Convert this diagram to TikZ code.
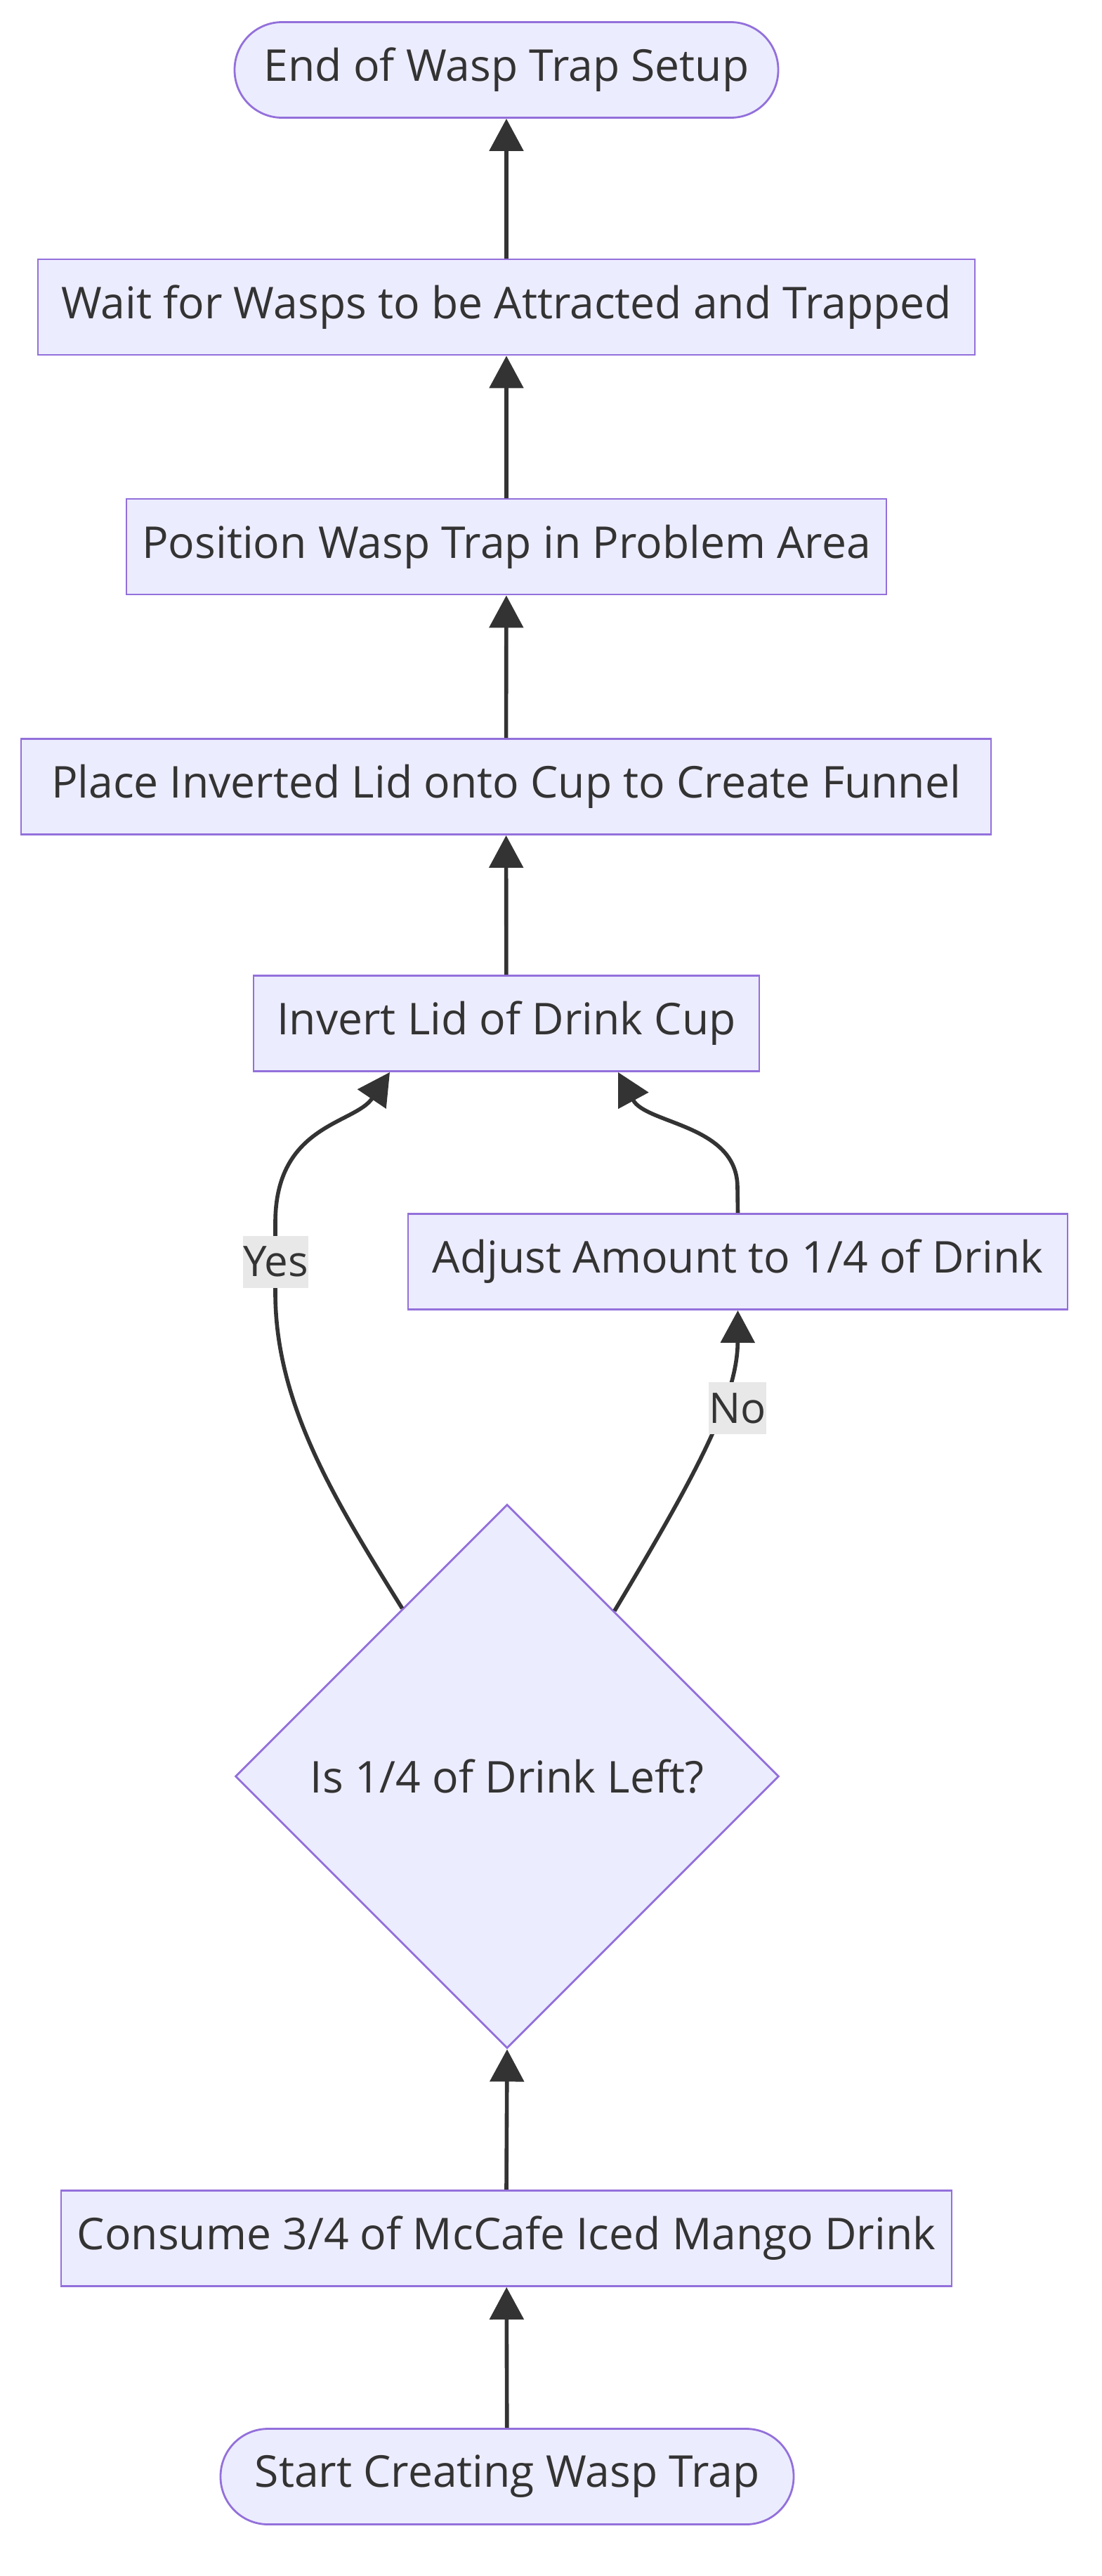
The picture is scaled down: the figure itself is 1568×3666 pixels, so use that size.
\documentclass[tikz,border=0pt]{standalone}
\usepackage{fontspec}
\setmainfont{Open Sans}
\usetikzlibrary{shapes.geometric,arrows.meta}
\definecolor{nfill}{HTML}{ECECFF}
\definecolor{nstroke}{HTML}{9370DB}
\definecolor{ntext}{HTML}{333333}
\definecolor{ecol}{HTML}{333333}
\definecolor{lblbg}{HTML}{E8E8E8}
\begin{document}
\begin{tikzpicture}[x=0.25pt,y=-0.25pt,
  font=\fontsize{15.6pt}{18pt}\selectfont,
  box/.style={draw=nstroke, fill=nfill, line width=0.7pt, text=ntext, minimum height=34pt, inner sep=0pt},
  stadium/.style={box, rounded corners=16.9pt},
  dia/.style={diamond, aspect=1, draw=nstroke, fill=nfill, line width=0.7pt, text=ntext, minimum width=193.5pt, minimum height=193.5pt, inner sep=0pt},
  conn/.style={draw=ecol, line width=1.4pt, -{Triangle[length=11.5pt,width=12pt]}},
  elabel/.style={fill=lblbg, text=ntext, inner sep=0pt, minimum height=18.5pt, font=\fontsize{15pt}{18pt}\selectfont}
]
\useasboundingbox (0,0) rectangle (1568,3666);
\fill[white] (0,0) rectangle (1568,3666);

\node[stadium, minimum width=193.5pt] (endn) at (721,99.5) {End of Wasp Trap Setup};
\node[box, minimum width=333.5pt] (wait) at (721,437) {Wait for Wasps to be Attracted and Trapped};
\node[box, minimum width=270.5pt] (pos) at (721,778) {Position Wasp Trap in Problem Area};
\node[box, minimum width=345.25pt] (place) at (720.5,1119.5) {Place Inverted Lid onto Cup to Create Funnel};
\node[box, minimum width=180pt] (inv) at (721,1456.5) {Invert Lid of Drink Cup};
\node[box, minimum width=234.75pt] (adj) at (1050.5,1795.5) {Adjust Amount to 1/4 of Drink};
\node[dia] (dec) at (722,2528) {Is 1/4 of Drink Left?};
\node[box, minimum width=317pt] (cons) at (721,3185.5) {Consume 3/4 of McCafe Iced Mango Drink};
\node[stadium, minimum width=204pt] (start) at (722,3524.5) {Start Creating Wasp Trap};

\draw[conn] (start) -- (cons);
\draw[conn] (cons.north) -- (dec.south);
\draw[conn] (inv) -- (place);
\draw[conn] (place) -- (pos);
\draw[conn] (pos) -- (wait);
\draw[conn] (wait) -- (endn);

% Yes branch
\draw[conn] (dec.122.5) .. controls (480,2140) and (392,2000) .. (392,1840)
  -- (392,1740) .. controls (392,1600) and (505,1600) .. ([xshift=-41.5pt]inv.south);
\node[elabel, minimum width=22.75pt] (yes) at (392.5,1795.5) {Yes};

% No branch
\draw[conn] (dec.57) .. controls (990,2100) and (1050,1990) .. (adj.south);
\node[elabel, minimum width=19.75pt] (no) at (1050,2004) {No};

% Adjust -> Invert
\draw[conn] (adj.north) -- (1050,1690) .. controls (1050,1600) and (920,1600) .. ([xshift=39.75pt]inv.south);
\end{tikzpicture}
\end{document}
